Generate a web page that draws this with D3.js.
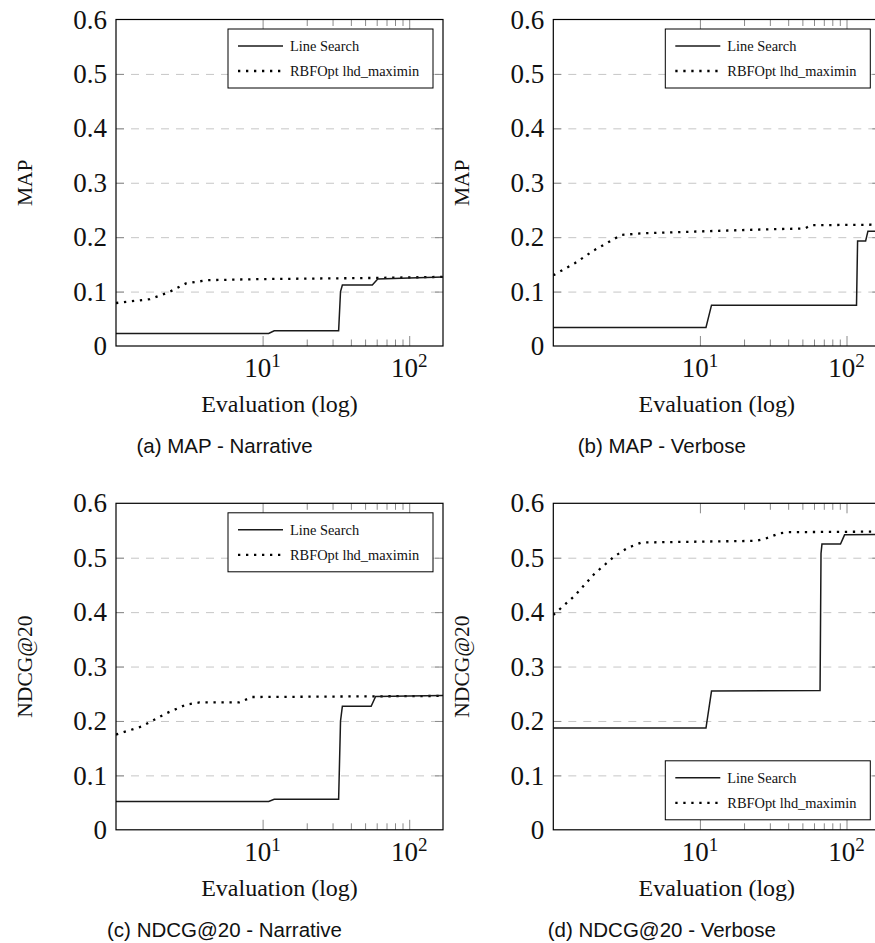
<!DOCTYPE html>
<html>
<head>
<meta charset="utf-8">
<script src="https://cdn.jsdelivr.net/npm/d3@7"></script>
<style>
  body { margin: 0; background: #fff; }
  svg { display: block; }
</style>
</head>
<body>
<div id="chart"></div>
<script>
// ---- data: [evaluation, score] ----
var mapNarrativeLineSearch = [[1, 0.023], [11, 0.023], [12, 0.028], [33, 0.028], [34, 0.1], [35, 0.112],
    [56, 0.112], [61, 0.123], [100, 0.125], [170, 0.127]];
var mapNarrativeRbfopt = [[1, 0.079], [1.7, 0.086], [2.3, 0.099], [3, 0.115], [4.2, 0.121], [10, 0.123],
    [55, 0.125], [170, 0.127]];

var mapVerboseLineSearch = [[1, 0.034], [11, 0.034], [12, 0.075], [117, 0.075], [119, 0.193], [135, 0.193],
    [140, 0.211], [170, 0.211]];
var mapVerboseRbfopt = [[1, 0.13], [1.4, 0.152], [1.9, 0.176], [2.9, 0.204], [4, 0.207], [11, 0.211],
    [25, 0.214], [52, 0.216], [57, 0.222], [170, 0.223]];

var ndcgNarrativeLineSearch = [[1, 0.052], [11, 0.052], [12, 0.056], [33, 0.056], [34, 0.2], [35, 0.227],
    [55, 0.227], [59, 0.245], [170, 0.247]];
var ndcgNarrativeRbfopt = [[1, 0.175], [1.5, 0.19], [2.2, 0.214], [3, 0.23], [3.7, 0.234], [6.9, 0.234],
    [8.5, 0.244], [170, 0.246]];

var ndcgVerboseLineSearch = [[1, 0.187], [11, 0.187], [12, 0.255], [66, 0.256], [67, 0.508], [68, 0.525],
    [91, 0.525], [97, 0.542], [170, 0.543]];
var ndcgVerboseRbfopt = [[1, 0.395], [1.4, 0.43], [1.9, 0.47], [2.6, 0.502], [3.2, 0.518], [4, 0.528],
    [24, 0.531], [28, 0.535], [35, 0.545], [40, 0.547], [170, 0.548]];

var xDomain = [1, 170];
var xMajorTicks = [10, 100];
var xMajorExp = ["1", "2"];
var xMinorTicks = [20, 30, 40, 50, 60, 70, 80, 90];
var yTicks = [0, 0.1, 0.2, 0.3, 0.4, 0.5, 0.6];
var yGrid = [0.1, 0.2, 0.3, 0.4, 0.5];
var legendLabels = ["Line Search", "RBFOpt lhd_maximin"];

function init() {
    var w = 875, h = 943;
    var pw = 327, ph = 326.5;
    var serif = "'Liberation Serif', 'Times New Roman', serif";
    var sans = "'Liberation Sans', Arial, sans-serif";

    var svg = d3.select("#chart")
        .append("svg")
        .attr("width", w)
        .attr("height", h);

    var panels = [
        { id: "a", left: 116, top: 19.5, ylabel: "MAP", caption: "(a) MAP - Narrative",
          ls: mapNarrativeLineSearch, rbf: mapNarrativeRbfopt, legendBottom: false },
        { id: "b", left: 553.3, top: 19.5, ylabel: "MAP", caption: "(b) MAP - Verbose",
          ls: mapVerboseLineSearch, rbf: mapVerboseRbfopt, legendBottom: false },
        { id: "c", left: 116, top: 503.3, ylabel: "NDCG@20", caption: "(c) NDCG@20 - Narrative",
          ls: ndcgNarrativeLineSearch, rbf: ndcgNarrativeRbfopt, legendBottom: false },
        { id: "d", left: 553.3, top: 503.3, ylabel: "NDCG@20", caption: "(d) NDCG@20 - Verbose",
          ls: ndcgVerboseLineSearch, rbf: ndcgVerboseRbfopt, legendBottom: true }
    ];

    var tickColor = "#8a8a8a";
    var dotted = "2.3,5.7";

    panels.forEach(function(p) {
        var g = svg.append("g").attr("transform", "translate(" + p.left + "," + p.top + ")");

        var x = d3.scaleLog().domain(xDomain).range([0, pw]);
        var y = d3.scaleLinear().domain([0, 0.6]).range([ph, 0]);

        // dashed horizontal grid
        g.append("g")
            .call(d3.axisLeft(y).tickValues(yGrid).tickSize(-pw).tickFormat(""))
            .call(s => s.select(".domain").remove())
            .selectAll("line")
            .attr("stroke", "#c6c6c6")
            .attr("stroke-dasharray", "8,7");

        // inward ticks on all four sides
        function styleTicks(s) {
            s.select(".domain").remove();
            s.selectAll("line").attr("stroke", tickColor).attr("stroke-width", 1);
        }
        g.append("g").attr("transform", "translate(0," + ph + ")")
            .call(d3.axisBottom(x).tickValues(xMajorTicks).tickSize(-10).tickFormat("")).call(styleTicks);
        g.append("g").attr("transform", "translate(0," + ph + ")")
            .call(d3.axisBottom(x).tickValues(xMinorTicks).tickSize(-6.5).tickFormat("")).call(styleTicks);
        g.append("g")
            .call(d3.axisTop(x).tickValues(xMajorTicks).tickSize(-10).tickFormat("")).call(styleTicks);
        g.append("g")
            .call(d3.axisTop(x).tickValues(xMinorTicks).tickSize(-6.5).tickFormat("")).call(styleTicks);
        g.append("g")
            .call(d3.axisLeft(y).tickValues(yGrid).tickSize(-8).tickFormat("")).call(styleTicks);
        g.append("g").attr("transform", "translate(" + pw + ",0)")
            .call(d3.axisRight(y).tickValues(yGrid).tickSize(-8).tickFormat("")).call(styleTicks);

        // y tick labels
        g.append("g")
            .call(d3.axisLeft(y).tickValues(yTicks).tickSize(0).tickPadding(9)
                .tickFormat(d => d === 0 ? "0" : d.toFixed(1)))
            .call(s => s.select(".domain").remove())
            .selectAll("text")
            .attr("font-family", serif)
            .attr("font-size", 27)
            .attr("fill", "#111");

        // x tick labels 10^n
        var xl = g.append("g").selectAll("text")
            .data(xMajorTicks)
            .join("text")
            .attr("x", d => x(d))
            .attr("y", ph + 31)
            .attr("text-anchor", "middle")
            .attr("font-family", serif)
            .attr("font-size", 27)
            .attr("fill", "#111");
        xl.append("tspan").text("10");
        xl.append("tspan").attr("font-size", 19).attr("dy", -10).text((d, i) => xMajorExp[i]);

        // data lines
        var clipId = "clip-" + p.id;
        g.append("clipPath").attr("id", clipId)
            .append("rect").attr("width", pw).attr("height", ph);

        var line = d3.line()
            .x(d => x(d[0]))
            .y(d => y(d[1]));

        g.append("path")
            .datum(p.rbf)
            .attr("clip-path", "url(#" + clipId + ")")
            .attr("fill", "none")
            .attr("stroke", "#000")
            .attr("stroke-width", 2.3)
            .attr("stroke-dasharray", dotted)
            .attr("d", line);

        g.append("path")
            .datum(p.ls)
            .attr("clip-path", "url(#" + clipId + ")")
            .attr("fill", "none")
            .attr("stroke", "#1a1a1a")
            .attr("stroke-width", 1.5)
            .attr("d", line);

        // frame
        g.append("rect")
            .attr("width", pw)
            .attr("height", ph)
            .attr("fill", "none")
            .attr("stroke", "#000")
            .attr("stroke-width", 1.2);

        // legend
        var lw = 205, lh = 59;
        var lg = g.append("g")
            .attr("transform", "translate(" + (pw - 10 - lw) + "," + (p.legendBottom ? ph - 10 - lh : 9.5) + ")");
        lg.append("rect")
            .attr("width", lw).attr("height", lh)
            .attr("fill", "#fff").attr("stroke", "#000").attr("stroke-width", 1);
        legendLabels.forEach(function(lab, i) {
            var ly = 17 + i * 25;
            lg.append("line")
                .attr("x1", 10).attr("x2", 55)
                .attr("y1", ly).attr("y2", ly)
                .attr("stroke", i === 0 ? "#1a1a1a" : "#000")
                .attr("stroke-width", i === 0 ? 1.5 : 2.3)
                .attr("stroke-dasharray", i === 0 ? null : dotted);
            lg.append("text")
                .attr("x", 62).attr("y", ly)
                .attr("dy", "0.35em")
                .attr("font-family", serif)
                .attr("font-size", 14.4)
                .attr("fill", "#111")
                .text(lab);
        });

        // axis labels
        g.append("text")
            .attr("x", pw / 2)
            .attr("y", ph + 66)
            .attr("text-anchor", "middle")
            .attr("font-family", serif)
            .attr("font-size", 24)
            .attr("fill", "#111")
            .text("Evaluation (log)");

        g.append("text")
            .attr("transform", "translate(-92," + ph / 2 + ") rotate(-90)")
            .attr("dy", "0.35em")
            .attr("text-anchor", "middle")
            .attr("font-family", serif)
            .attr("font-size", 21.5)
            .attr("fill", "#111")
            .text(p.ylabel);

        // caption
        g.append("text")
            .attr("x", 108.5)
            .attr("y", ph + 107)
            .attr("text-anchor", "middle")
            .attr("font-family", sans)
            .attr("font-size", 20.5)
            .attr("fill", "#111")
            .text(p.caption);
    });
}

window.onload = init;
</script>
</body>
</html>
